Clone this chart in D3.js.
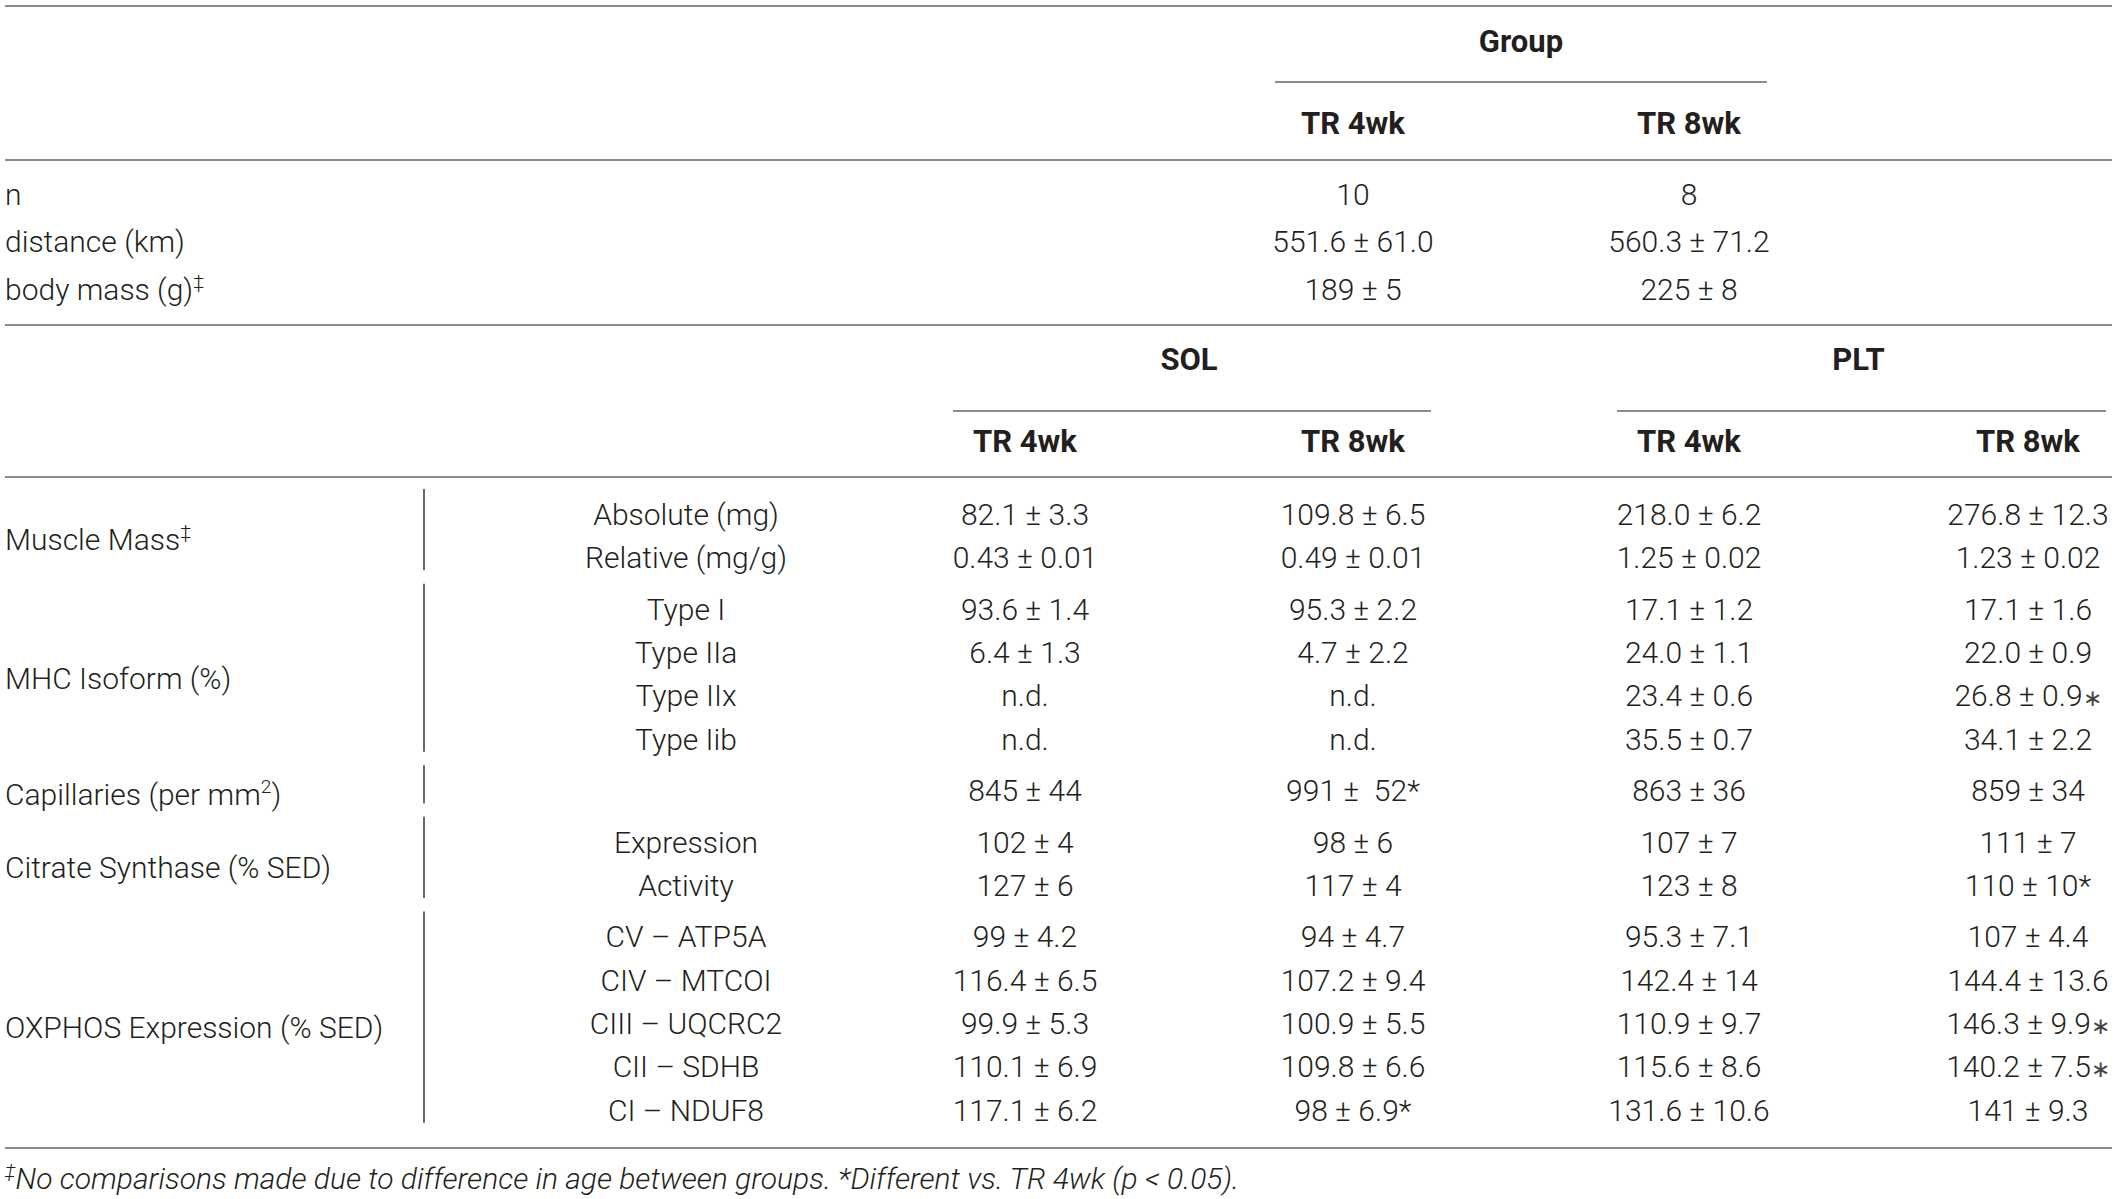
<!DOCTYPE html>
<html>
<head>
<meta charset="utf-8">
<script src="https://cdn.jsdelivr.net/npm/d3@7"></script>
<style>
	body { margin: 0; background: #fff; }
	text { font-family: Roboto, "Liberation Sans", sans-serif; fill: #231f20; white-space: pre; }
</style>
</head>
<body>
<div id="table"></div>
<script>
/**** DATA *****/
const groupCols = ['TR 4wk', 'TR 8wk'];
const muscles = ['SOL', 'PLT'];
const dataCols = ['sol4', 'sol8', 'plt4', 'plt8'];

const topRows = ['n', 'distance (km)', 'body mass (g)‡'];
const top4wk = ['10', '551.6 ± 61.0', '189 ± 5'];
const top8wk = ['8', '560.3 ± 71.2', '225 ± 8'];

const measures = ['Muscle Mass‡', 'MHC Isoform (%)', 'Capillaries (per mm²)', 'Citrate Synthase (% SED)', 'OXPHOS Expression (% SED)'];
const subRows = [
	['Absolute (mg)', 'Relative (mg/g)'],
	['Type I', 'Type IIa', 'Type IIx', 'Type Iib'],
	[''],
	['Expression', 'Activity'],
	['CV – ATP5A', 'CIV – MTCOI', 'CIII – UQCRC2', 'CII – SDHB', 'CI – NDUF8']
];

const sol4 = ['82.1 ± 3.3', '0.43 ± 0.01', '93.6 ± 1.4', '6.4 ± 1.3', 'n.d.', 'n.d.', '845 ± 44', '102 ± 4', '127 ± 6', '99 ± 4.2', '116.4 ± 6.5', '99.9 ± 5.3', '110.1 ± 6.9', '117.1 ± 6.2'];
const sol8 = ['109.8 ± 6.5', '0.49 ± 0.01', '95.3 ± 2.2', '4.7 ± 2.2', 'n.d.', 'n.d.', '991 ±  52*', '98 ± 6', '117 ± 4', '94 ± 4.7', '107.2 ± 9.4', '100.9 ± 5.5', '109.8 ± 6.6', '98 ± 6.9*'];
const plt4 = ['218.0 ± 6.2', '1.25 ± 0.02', '17.1 ± 1.2', '24.0 ± 1.1', '23.4 ± 0.6', '35.5 ± 0.7', '863 ± 36', '107 ± 7', '123 ± 8', '95.3 ± 7.1', '142.4 ± 14', '110.9 ± 9.7', '115.6 ± 8.6', '131.6 ± 10.6'];
const plt8 = ['276.8 ± 12.3', '1.23 ± 0.02', '17.1 ± 1.6', '22.0 ± 0.9', '26.8 ± 0.9∗', '34.1 ± 2.2', '859 ± 34', '111 ± 7', '110 ± 10*', '107 ± 4.4', '144.4 ± 13.6', '146.3 ± 9.9∗', '140.2 ± 7.5∗', '141 ± 9.3'];

const footnote = '‡No comparisons made due to difference in age between groups. *Different vs. TR 4wk (p < 0.05).';

/**** LAYOUT *****/
const width = 2117, height = 1199;
const fontSize = 30;
const boldSize = 31;
const lineColor = '#8c8c8c';
const left = 5, right = 2112;

const svg = d3.select('#table').append('svg')
	.attr('width', width).attr('height', height)
	.attr('viewBox', [0, 0, width, height]);

const colX = d3.scaleOrdinal().domain(dataCols).range([1025, 1353, 1689, 2028]);
const subX = 686;
const halfCol = 78;

// flatten sub rows, remember which measure they belong to
const flatRows = [];
subRows.forEach((rows, g) => rows.forEach(label => flatRows.push({ g, label })));
const gapRatio = 0.19;
const slot = (d, i) => i + d.g * gapRatio;
const rowY = d3.scaleLinear().domain([0, 1]).range([514, 557.3]);
flatRows.forEach((d, i) => d.y = rowY(slot(d, i)));

const topY = d3.scalePoint().domain(topRows).range([194, 289]);

// writes a label, raising the superscript glyphs
function supText(sel, str, size) {
	const parts = str.split(/([‡²∗])/).filter(s => s !== '');
	let raised = false;
	parts.forEach(p => {
		const isSup = p === '‡' || p === '²';
		const t = sel.append('tspan').text(p === '²' ? '2' : p);
		if (isSup) {
			t.attr('font-size', size * 0.64).attr('dy', -12);
			raised = true;
		} else {
			if (raised) { t.attr('dy', 12); raised = false; }
			if (p === '∗') t.attr('font-size', size * 0.78).attr('font-weight', 300).attr('fill', '#444');
		}
	});
}

function hLine(x1, x2, y) {
	svg.append('line')
		.attr('x1', x1).attr('x2', x2).attr('y1', y).attr('y2', y)
		.attr('stroke', lineColor).attr('stroke-width', 2);
}

function cell(x, y, str, anchor, weight) {
	const size = weight ? boldSize : fontSize;
	const t = svg.append('text')
		.attr('x', x).attr('y', y).attr('dy', '0.36em')
		.attr('font-size', size)
		.attr('font-weight', weight || 300)
		.attr('text-anchor', anchor || 'middle');
	supText(t, str, size);
	return t;
}

/**** TOP SECTION *****/
hLine(left, right, 6);
const groupX = d3.scaleOrdinal().domain(groupCols).range([colX('sol8'), colX('plt4')]);
cell((groupX('TR 4wk') + groupX('TR 8wk')) / 2, 41, 'Group', 'middle', 700);
hLine(groupX('TR 4wk') - halfCol, groupX('TR 8wk') + halfCol, 82);
groupCols.forEach(c => cell(groupX(c), 123, c, 'middle', 700));
hLine(left, right, 160);

topRows.forEach((r, i) => {
	cell(left, topY(r), r, 'start');
	cell(groupX('TR 4wk'), topY(r), top4wk[i]);
	cell(groupX('TR 8wk'), topY(r), top8wk[i]);
});
hLine(left, right, 325);

/**** MUSCLE SECTION *****/
const muscleCols = { SOL: ['sol4', 'sol8'], PLT: ['plt4', 'plt8'] };
muscles.forEach(m => {
	const [a, b] = muscleCols[m];
	cell((colX(a) + colX(b)) / 2, 359, m, 'middle', 700);
	hLine(colX(a) - halfCol + 6, Math.min(colX(b) + halfCol, right), 411);
	cell(colX(a), 441, groupCols[0], 'middle', 700);
	cell(colX(b), 441, groupCols[1], 'middle', 700);
});
hLine(left, right, 477);

measures.forEach((m, g) => {
	const rows = flatRows.filter(d => d.g === g);
	const y0 = rows[0].y, y1 = rows[rows.length - 1].y;
	cell(left, d3.mean(rows, d => d.y) + 4, m, 'start');
	svg.append('line')
		.attr('x1', 424).attr('x2', 424)
		.attr('y1', y0 - 25).attr('y2', y1 + 13)
		.attr('stroke', '#444').attr('stroke-width', 1.6);
});

const colValues = { sol4, sol8, plt4, plt8 };
flatRows.forEach((d, i) => {
	if (d.label) cell(subX, d.y, d.label);
	dataCols.forEach(c => cell(colX(c), d.y, colValues[c][i]));
});

hLine(left, right, 1148);

const foot = svg.append('text')
	.attr('x', left).attr('y', 1189).attr('dy', '0.36em')
	.attr('font-size', fontSize)
	.attr('font-weight', 300)
	.attr('font-style', 'italic');
supText(foot, footnote, fontSize);
</script>
</body>
</html>
